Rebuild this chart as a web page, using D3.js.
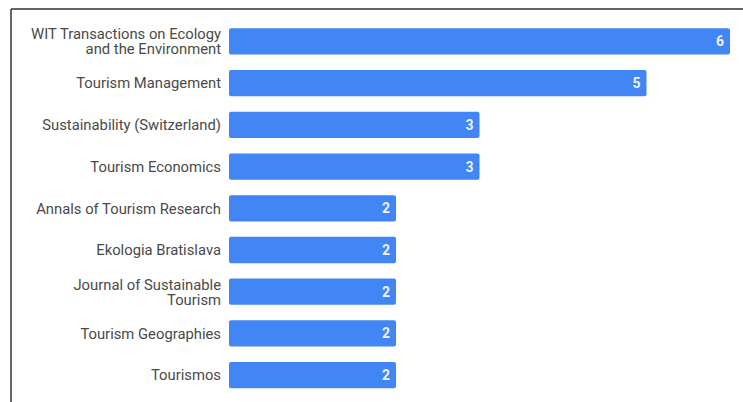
<!DOCTYPE html>
<html>
<head>
<meta charset="utf-8">
<script src="https://cdn.jsdelivr.net/npm/d3@7"></script>
<style>
  body { margin: 0; background: #fff; }
  svg { display: block; }
</style>
</head>
<body>
<div id="chart"></div>
<script>
// journals and document counts
var journals = [
	[ "WIT Transactions on Ecology", "and the Environment" ],
	[ "Tourism Management" ],
	[ "Sustainability (Switzerland)" ],
	[ "Tourism Economics" ],
	[ "Annals of Tourism Research" ],
	[ "Ekologia Bratislava" ],
	[ "Journal of Sustainable", "Tourism" ],
	[ "Tourism Geographies" ],
	[ "Tourismos" ]
];
var counts = [ 6, 5, 3, 3, 2, 2, 2, 2, 2 ];

var W = 743, H = 402;
var margin = { top: 20.6, right: 13, bottom: 6, left: 229 };

var svg = d3.select( "#chart" )
	.append( "svg" )
	.attr( "width", W )
	.attr( "height", H );

// frame lines (top and left)
svg.append( "line" )
	.attr( "x1", 11 ).attr( "x2", W ).attr( "y1", 9 ).attr( "y2", 9 )
	.attr( "stroke", "#333" ).attr( "stroke-width", 1.5 );
svg.append( "line" )
	.attr( "x1", 11 ).attr( "x2", 11 ).attr( "y1", 9 ).attr( "y2", H )
	.attr( "stroke", "#333" ).attr( "stroke-width", 1.5 );

var idx = d3.range( counts.length );

var x = d3.scaleLinear()
	.domain( [ 0, 6 ] )
	.range( [ margin.left, 730 ] );

var y = d3.scaleBand()
	.domain( idx )
	.range( [ margin.top, H - margin.bottom ] )
	.paddingInner( 0.37 )
	.paddingOuter( 0.185 );

var g = svg.append( "g" );

// bars
g.selectAll( ".bar" )
	.data( idx )
	.enter()
	.append( "rect" )
	.attr( "class", "bar" )
	.attr( "x", x( 0 ) )
	.attr( "y", function( i ) { return y( i ); } )
	.attr( "width", function( i ) { return x( counts[ i ] ) - x( 0 ); } )
	.attr( "height", y.bandwidth() )
	.attr( "rx", 2 )
	.style( "fill", "#4285f4" );

// value labels inside bars
g.selectAll( ".val" )
	.data( idx )
	.enter()
	.append( "text" )
	.attr( "class", "val" )
	.attr( "x", function( i ) { return x( counts[ i ] ) - 6; } )
	.attr( "y", function( i ) { return y( i ) + y.bandwidth() / 2; } )
	.attr( "dy", "0.36em" )
	.attr( "text-anchor", "end" )
	.style( "font", "bold 14px Roboto, sans-serif" )
	.style( "fill", "#f0f0f0" )
	.text( function( i ) { return counts[ i ]; } );

// category labels
var labels = g.selectAll( ".lab" )
	.data( idx )
	.enter()
	.append( "text" )
	.attr( "class", "lab" )
	.attr( "text-anchor", "end" )
	.style( "font", "14.8px Roboto, sans-serif" )
	.style( "fill", "#4a4a4a" );

labels.each( function( i ) {
	var lines = journals[ i ];
	var cy = y( i ) + y.bandwidth() / 2;
	var lh = 15;
	var start = cy - ( lines.length - 1 ) * lh / 2;
	d3.select( this ).selectAll( "tspan" )
		.data( lines )
		.enter()
		.append( "tspan" )
		.attr( "x", 221 )
		.attr( "y", function( d, k ) { return start + k * lh; } )
		.attr( "dy", "0.36em" )
		.text( function( d ) { return d; } );
} );
</script>
</body>
</html>
